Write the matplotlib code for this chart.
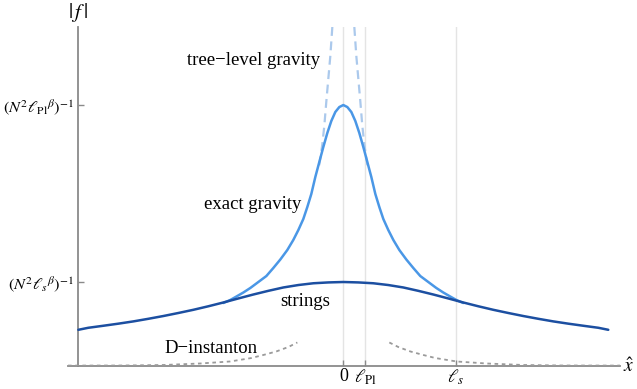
import numpy as np
import matplotlib
matplotlib.use("Agg")
import matplotlib.pyplot as plt

plt.rcParams['font.family'] = ['Liberation Serif', 'DejaVu Serif']
plt.rcParams['mathtext.fontset'] = 'stix'

# ---- data (units: x in l_s, y in (N^2 l_s^beta)^-1) ----
l_pl = 0.195
l_s = 1.0
peak_pl = 3.107
peak_s = 1.0

strings_x = [-2.351, -2.263, -2.130, -1.996, -1.863, -1.730, -1.597, -1.464, -1.331,
             -1.198, -1.065, -0.932, -0.799, -0.665, -0.532, -0.399, -0.266, -0.133,
             0.0,
             0.133, 0.266, 0.399, 0.532, 0.665, 0.799, 0.932, 1.065, 1.198,
             1.331, 1.464, 1.597, 1.730, 1.863, 1.996, 2.130, 2.263, 2.351]
strings_y = [0.431, 0.455, 0.479, 0.504, 0.531, 0.562, 0.595, 0.631, 0.669,
             0.711, 0.756, 0.804, 0.851, 0.895, 0.935, 0.964, 0.985, 0.995,
             1.000,
             0.995, 0.985, 0.964, 0.935, 0.895, 0.851, 0.804, 0.756, 0.711,
             0.669, 0.631, 0.595, 0.562, 0.531, 0.504, 0.479, 0.455, 0.431]

gravity_x = [-1.065, -1.003, -0.949, -0.887, -0.825, -0.754, -0.683, -0.621, -0.559,
             -0.497, -0.444, -0.399, -0.355, -0.3194, -0.284, -0.2485, -0.213, -0.1775,
             -0.142, -0.1065, -0.071, -0.0355,
             0.0,
             0.0355, 0.071, 0.1065, 0.142, 0.1775, 0.213, 0.2485, 0.284, 0.3194,
             0.355, 0.399, 0.444, 0.497, 0.559, 0.621, 0.683, 0.754, 0.825,
             0.887, 0.949, 1.003, 1.065]
gravity_y = [0.750, 0.786, 0.827, 0.875, 0.929, 1.000, 1.071, 1.167, 1.268,
             1.381, 1.500, 1.619, 1.750, 1.893, 2.048, 2.250, 2.429, 2.607,
             2.774, 2.917, 3.024, 3.083,
             3.107,
             3.083, 3.024, 2.917, 2.774, 2.607, 2.429, 2.250, 2.048, 1.893,
             1.750, 1.619, 1.500, 1.381, 1.268, 1.167, 1.071, 1.000, 0.929,
             0.875, 0.827, 0.786, 0.750]

tree_x_left = [-0.0976, -0.1154, -0.1331, -0.1508, -0.1686, -0.1863, -0.2041, -0.2218]
tree_x_right = [0.0976, 0.1154, 0.1331, 0.1508, 0.1686, 0.1863, 0.2041, 0.2218]
tree_y = [4.036, 3.690, 3.420, 3.150, 2.860, 2.640, 2.470, 2.330]

dinst_x_left = [-2.443, -1.952, -1.597, -1.269, -1.003, -0.816, -0.710, -0.595, -0.488, -0.408]
dinst_y_left = [0.005, 0.006, 0.012, 0.030, 0.054, 0.095, 0.131, 0.173, 0.226, 0.280]
dinst_x_right = [0.408, 0.488, 0.595, 0.710, 0.816, 1.003, 1.269, 1.597, 1.952, 2.455]
dinst_y_right = [0.280, 0.226, 0.173, 0.131, 0.095, 0.054, 0.030, 0.012, 0.006, 0.005]

xtick_pos = [0.0, l_pl, l_s]
xtick_labels = ['0', r'$\ell_{\mathrm{Pl}}$', r'$\ell_s$']
ytick_pos = [peak_s, peak_pl]
ytick_labels = [r'$(N^2{\ell_s}^{\beta})^{-1}$', r'$(N^2{\ell_{\mathrm{Pl}}}^{\beta})^{-1}$']

# ---- figure ----
W, H = 637, 389
fig = plt.figure(figsize=(W / 100, H / 100), dpi=100)
ax = fig.add_axes([68 / W, (H - 366) / H, (620 - 68) / W, (366 - 27) / H])
ax.set_xlim(-2.443, 2.455)
ax.set_ylim(0, 4.036)

for xv in xtick_pos:
    ax.axvline(xv, color='#e4e4e4', lw=1.0, zorder=0)

ax.plot(tree_x_left, tree_y, color='#abc9ec', lw=1.6, ls=(0, (4, 2.5)), zorder=2)
ax.plot(tree_x_right, tree_y, color='#abc9ec', lw=1.6, ls=(0, (4, 2.5)), zorder=2)
ax.plot(gravity_x, gravity_y, color='#4a97e6', lw=1.8, zorder=3,
        solid_capstyle='round', solid_joinstyle='round')
ax.plot(strings_x, strings_y, color='#1c4fa1', lw=1.8, zorder=4,
        solid_capstyle='round', solid_joinstyle='round')
ax.plot(dinst_x_left, dinst_y_left, color='#9a9a9a', lw=1.3, ls=(0, (2, 2)), zorder=5)
ax.plot(dinst_x_right, dinst_y_right, color='#9a9a9a', lw=1.3, ls=(0, (2, 2)), zorder=5)

for s in ['top', 'right']:
    ax.spines[s].set_visible(False)
ax.spines['left'].set_position(('data', -2.351))
ax.spines['bottom'].set_position(('data', 0))
for s in ['left', 'bottom']:
    ax.spines[s].set_color('#8a8a8a')
    ax.spines[s].set_linewidth(1.3)
    ax.spines[s].set_zorder(1)

ax.set_xticks(xtick_pos)
ax.set_xticklabels(xtick_labels, fontsize=13)
ax.set_yticks(ytick_pos)
ax.set_yticklabels(ytick_labels, fontsize=11.8)
ax.tick_params(direction='in', length=4, width=1, color='#8a8a8a')
ax.tick_params(axis='x', pad=1.5)
ax.tick_params(axis='y', pad=3)

ax.text(-0.80, 3.64, 'tree\u2212level gravity', fontsize=13.5, ha='center', va='center')
ax.text(-0.80, 1.92, 'exact gravity', fontsize=13.5, ha='center', va='center')
ax.text(-0.34, 0.77, 'strings', fontsize=13.5, ha='center', va='center')
ax.text(-1.17, 0.21, 'D\u2212instanton', fontsize=13.5, ha='center', va='center')

fig.text(78 / W, 1 - 13 / H, r'$|\,f\,|$', fontsize=15, ha='center', va='center')
fig.text(629 / W, 1 - 367 / H, r'$\hat{x}$', fontsize=14, ha='center', va='center')

fig.savefig('out.png', dpi=100)
